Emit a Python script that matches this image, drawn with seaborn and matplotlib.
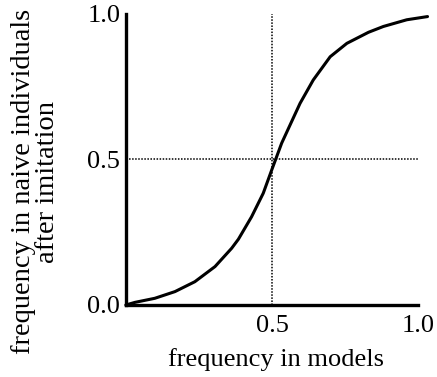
import matplotlib
matplotlib.use("Agg")
import matplotlib.pyplot as plt
import seaborn as sns
import pandas as pd

# data
freq_models = [0.0, 0.031, 0.099, 0.168, 0.236, 0.305, 0.362, 0.385, 0.430,
               0.470, 0.499, 0.533, 0.567, 0.596, 0.641, 0.699, 0.756, 0.830,
               0.881, 0.961, 1.032]
freq_naive = [0.0, 0.009, 0.023, 0.046, 0.080, 0.132, 0.195, 0.226, 0.303,
              0.384, 0.464, 0.556, 0.630, 0.693, 0.773, 0.853, 0.899, 0.937,
              0.957, 0.980, 0.991]
x_ticks = [0.5, 1.0]
x_tick_labels = ["0.5", "1.0"]
y_ticks = [0.0, 0.5, 1.0]
y_tick_labels = ["0.0", "0.5", "1.0"]
ref_x = 0.5
ref_y = 0.5

sns.set_style("white")
plt.rcParams["font.family"] = ["Liberation Serif", "DejaVu Serif"]

df = pd.DataFrame({"x": freq_models, "y": freq_naive})

fig = plt.figure(figsize=(4.37, 3.77), dpi=100)
ax = fig.add_axes([0.288, 0.191, 0.689, 0.772])

sns.lineplot(data=df, x="x", y="y", ax=ax, color="black", linewidth=2.2,
             sort=False, clip_on=False)

ax.axvline(ref_x, ymin=0, ymax=1, color="black", linewidth=1.1,
           linestyle=(0, (1, 1)))
ax.hlines(ref_y, 0, 1.0, color="black", linewidth=1.1, linestyle=(0, (1, 1)))

ax.set_xlim(0, 1.03)
ax.set_ylim(0, 1.0)
ax.set_xticks(x_ticks)
ax.set_xticklabels(x_tick_labels)
ax.set_yticks(y_ticks)
ax.set_yticklabels(y_tick_labels)
ax.tick_params(axis="both", length=0, labelsize=19, colors="black")
ax.tick_params(axis="x", pad=7)
ax.tick_params(axis="y", pad=4)

for side in ["top", "right"]:
    ax.spines[side].set_visible(False)
for side in ["left", "bottom"]:
    ax.spines[side].set_linewidth(2.4)
    ax.spines[side].set_color("black")
ax.spines["bottom"].set_bounds(0, 1.0)

ax.set_xlabel("frequency in models", fontsize=19, color="black", labelpad=8)
ax.set_ylabel("frequency in naive individuals\nafter imitation", fontsize=20.5,
              color="black", linespacing=0.95)
ax.yaxis.set_label_coords(-0.219, 0.423)

fig.savefig("out.png", dpi=100)
